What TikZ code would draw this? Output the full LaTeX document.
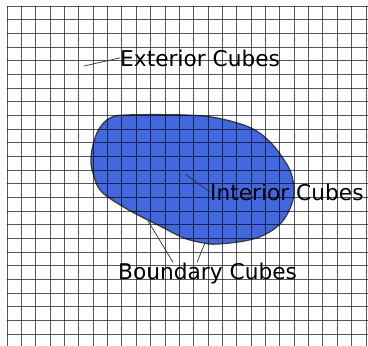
\documentclass[tikz,border=0pt]{standalone}
\usepackage{fontspec}
\setmainfont{DejaVu Sans}
\begin{document}
\begin{tikzpicture}[x=1pt,y=-1pt,
  gridline/.style={black,opacity=0.65,line width=0.9pt},
  blob/.style={fill={rgb,255:red,66;green,104;blue,224},draw={rgb,255:red,55;green,58;blue,70},line width=1.3pt},
  label/.style={anchor=base west,inner sep=0pt,font=\fontsize{21.7}{26}\selectfont},
  leader/.style={draw={rgb,255:red,50;green,50;blue,50},line width=0.7pt}]
\useasboundingbox (0,0) rectangle (368,346);
\fill[white] (0,0) rectangle (368,346);
% blob
\draw[blob] plot[smooth cycle,tension=0.6] coordinates {
  (127,115) (184,115) (217,118) (251,128) (271,143) (284,160) (291,173)
  (294,190) (291,206) (281,223) (264,235) (244,241) (217,244) (204,243)
  (184,238) (160,226) (140,216) (117,203) (100,190) (93,173) (91,160)
  (93,145) (99,129) (110,118)};
% grid
\foreach \i in {0,...,25} {
  \draw[gridline] ({7+14.36*\i},6) -- ({7+14.36*\i},346);
}
\foreach \j in {0,...,24} {
  \draw[gridline] (7,{6+13.67*\j}) -- (368,{6+13.67*\j});
}
% labels
\node[label] (ext) at (120,66) {Exterior Cubes};
\node[label] (int) at (210,200) {Interior Cubes};
\node[label] (bnd) at (118,279) {Boundary Cubes};
% leader lines
\coordinate (extp) at (84,66);
\coordinate (intp) at (185,174);
\coordinate (bp1) at (148,221);
\coordinate (bp2) at (205,243);
\coordinate (bx1) at (173,0);
\coordinate (bx2) at (197,0);
\draw[leader] (extp) -- (ext.west);
\draw[leader] (intp) -- (int.west);
\draw[leader] (bp1) -- (bx1 |- bnd.north);
\draw[leader] (bp2) -- (bx2 |- bnd.north);
\end{tikzpicture}
\end{document}
